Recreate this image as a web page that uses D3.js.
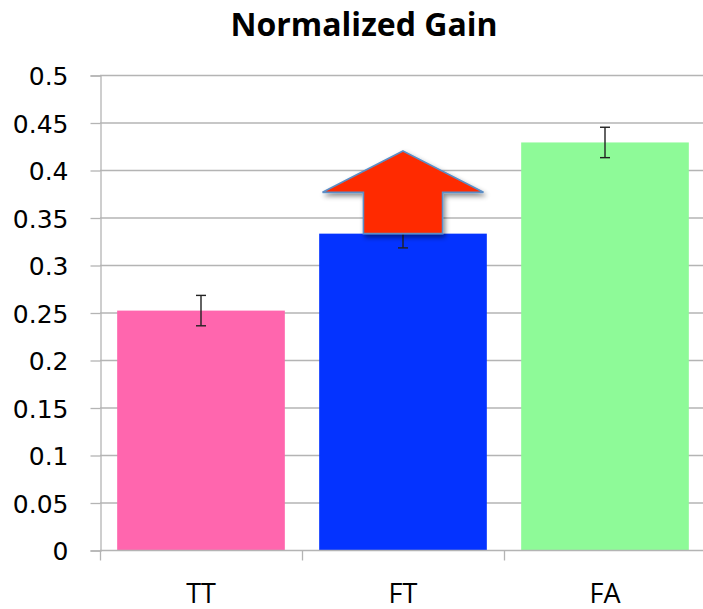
<!DOCTYPE html>
<html>
<head>
<meta charset="utf-8">
<script src="https://cdn.jsdelivr.net/npm/d3@7"></script>
<style>
  body { margin: 0; background: #fff; }
  text { font-family: "Open Sans", sans-serif; }
</style>
</head>
<body>
<div id="chart"></div>
<script>
var categories = ["TT", "FT", "FA"];
var gains = [0.252, 0.333, 0.429];
var errors = [0.016, 0.015, 0.016];
var colors = ["#ff66ae", "#0433ff", "#8efa98"];
var yTicks = [0, 0.05, 0.1, 0.15, 0.2, 0.25, 0.3, 0.35, 0.4, 0.45, 0.5];

// arrow drawn over the FT bar, from its top up to this value
var arrowTarget = 0.42;

var width = 703,
    height = 609;
var margin = {top: 75, right: -3, bottom: 59, left: 100};

var svg = d3.select("#chart")
    .append("svg")
    .attr("width", width)
    .attr("height", height);

var defs = svg.append("defs");
var shadow = defs.append("filter").attr("id", "shadow")
    .attr("x", "-20%").attr("y", "-20%").attr("width", "150%").attr("height", "150%");
shadow.append("feDropShadow")
    .attr("dx", 2).attr("dy", 3).attr("stdDeviation", 2.5)
    .attr("flood-color", "#000").attr("flood-opacity", 0.45);

var x = d3.scaleBand()
    .domain(categories)
    .range([margin.left, width - margin.right])
    .paddingInner(0.17)
    .paddingOuter(0.085);

var xOuter = d3.scaleBand()
    .domain(categories)
    .range([margin.left, width - margin.right]);

var y = d3.scaleLinear()
    .domain([0, 0.5])
    .range([height - margin.bottom, margin.top]);

// grid lines
svg.append("g")
    .selectAll("line")
    .data(yTicks.slice(1))
    .enter().append("line")
    .attr("x1", margin.left)
    .attr("x2", width)
    .attr("y1", function(d) { return y(d) + 0.5 })
    .attr("y2", function(d) { return y(d) + 0.5 })
    .attr("stroke", "#b4b4b4")
    .attr("stroke-width", 1.3);

// y axis
var yAxis = svg.append("g")
    .attr("transform", "translate(" + (margin.left + 0.5) + ",0.5)")
    .call(d3.axisLeft(y).tickValues(yTicks).tickSize(10).tickPadding(22)
        .tickFormat(function(d) { return d3.format("")(+d.toFixed(2)) }));
yAxis.select(".domain").attr("stroke", "#b4b4b4").attr("stroke-width", 1.3);
yAxis.selectAll(".tick line").attr("stroke", "#b4b4b4").attr("stroke-width", 1.3);
yAxis.selectAll(".tick text")
    .attr("font-size", 25)
    .style("font-family", "'DejaVu Sans', sans-serif")
    .attr("fill", "#000")
    .attr("dy", "0.36em");

// bars
svg.append("g")
    .selectAll("rect")
    .data(categories)
    .enter().append("rect")
    .attr("x", function(d) { return x(d) })
    .attr("width", x.bandwidth())
    .attr("y", function(d, i) { return y(gains[i]) })
    .attr("height", function(d, i) { return y(0) - y(gains[i]) })
    .attr("fill", function(d, i) { return colors[i] });

// error bars
var err = svg.append("g")
    .selectAll("g")
    .data(categories)
    .enter().append("g")
    .attr("stroke", "#222")
    .attr("stroke-width", 1.4);
err.append("line")
    .attr("x1", function(d) { return x(d) + x.bandwidth() / 2 })
    .attr("x2", function(d) { return x(d) + x.bandwidth() / 2 })
    .attr("y1", function(d, i) { return y(gains[i] + errors[i]) })
    .attr("y2", function(d, i) { return y(gains[i] - errors[i]) });
[1, -1].forEach(function(s) {
    err.append("line")
        .attr("x1", function(d) { return x(d) + x.bandwidth() / 2 - 5 })
        .attr("x2", function(d) { return x(d) + x.bandwidth() / 2 + 5 })
        .attr("y1", function(d, i) { return y(gains[i] + s * errors[i]) })
        .attr("y2", function(d, i) { return y(gains[i] + s * errors[i]) });
});

// x axis
var xAxis = svg.append("g")
    .attr("transform", "translate(0," + (y(0) + 0.5) + ")");
xAxis.append("line")
    .attr("x1", margin.left).attr("x2", width)
    .attr("stroke", "#b4b4b4").attr("stroke-width", 1.3);
xAxis.selectAll(".sep")
    .data(categories)
    .enter().append("line")
    .attr("class", "sep")
    .attr("x1", function(d) { return xOuter(d) + 0.5 })
    .attr("x2", function(d) { return xOuter(d) + 0.5 })
    .attr("y1", 0).attr("y2", 10)
    .attr("stroke", "#b4b4b4").attr("stroke-width", 1.3);
xAxis.selectAll("text")
    .data(categories)
    .enter().append("text")
    .attr("x", function(d) { return xOuter(d) + xOuter.bandwidth() / 2 })
    .attr("y", 52)
    .attr("text-anchor", "middle")
    .attr("font-size", 27)
    .attr("fill", "#000")
    .text(function(d) { return d });

// arrow over FT
var fi = categories.indexOf("FT");
var cx = x("FT") + x.bandwidth() / 2;
var yBase = y(gains[fi]),
    yTip = y(arrowTarget),
    yWing = yTip + (yBase - yTip) * 0.5;
var shaftHalf = x.bandwidth() * 0.236,
    wingHalf = x.bandwidth() * 0.48;
var pts = [
    [cx, yTip], [cx + wingHalf, yWing], [cx + shaftHalf, yWing],
    [cx + shaftHalf, yBase], [cx - shaftHalf, yBase], [cx - shaftHalf, yWing],
    [cx - wingHalf, yWing]
];
svg.append("path")
    .attr("d", d3.line()(pts) + "Z")
    .attr("fill", "#ff2a00")
    .attr("stroke", "#5b8ec6")
    .attr("stroke-width", 1.6)
    .attr("stroke-linejoin", "miter")
    .attr("filter", "url(#shadow)");

// title
svg.append("text")
    .attr("x", 364)
    .attr("y", 36)
    .attr("text-anchor", "middle")
    .attr("font-size", 32)
    .attr("font-weight", "bold")
    .attr("fill", "#000")
    .text("Normalized Gain");
</script>
</body>
</html>
